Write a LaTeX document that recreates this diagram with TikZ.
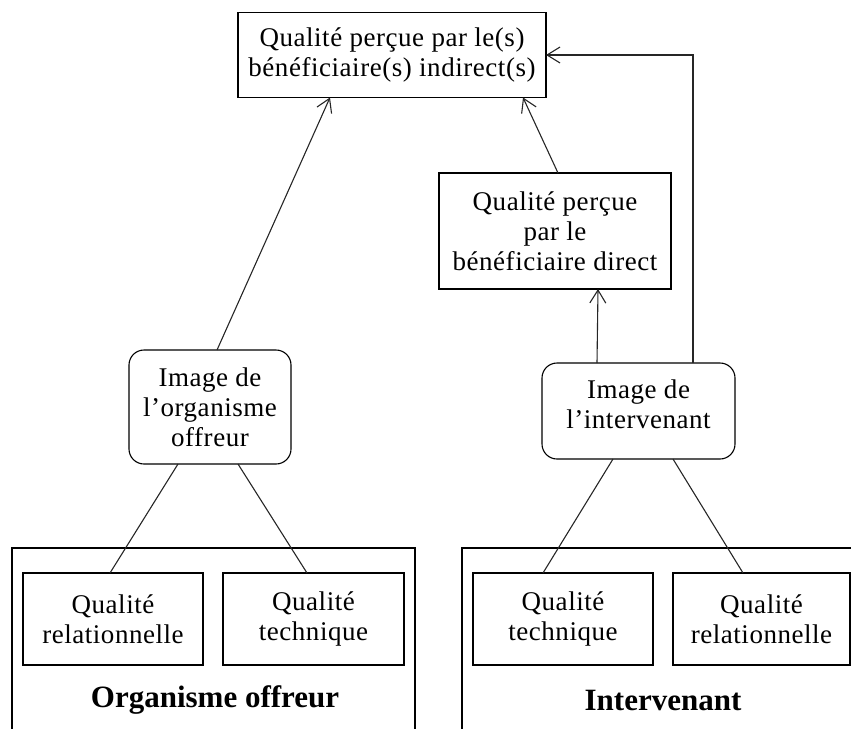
\documentclass[tikz,border=0pt]{standalone}
\usepackage{fontspec}
\setmainfont{Liberation Serif}
\newfontfamily\boxfont{Liberation Serif}[LetterSpace=2]
\usetikzlibrary{arrows.meta}
\begin{document}
\begin{tikzpicture}[x=1pt,y=-1pt,
  every node/.style={inner sep=0pt,outer sep=0pt,align=center,
    font=\boxfont\fontsize{27}{30}\selectfont},
  box/.style={draw,line width=1.1pt,rectangle},
  rbox/.style={draw,line width=1.1pt,rectangle,rounded corners=15pt},
  conn/.style={line width=1.1pt,draw=black!85},
  arr/.style={conn,-{Straight Barb[length=13pt,width=16pt,line width=1.1pt]}},
  title/.style={font=\rmfamily\fontsize{31}{34}\selectfont\bfseries}]
\useasboundingbox (0,0) rectangle (851,728);
% big containers
\node[box,minimum width=403pt,minimum height=230pt,anchor=north west] (orgbox) at (12,548) {};
\node[box,minimum width=430pt,minimum height=230pt,anchor=north west] (intbox) at (462,548) {};
\node[title] (orgtitle) at (215,700) {Organisme offreur};
\node[title] (inttitle) at (663,700) {Intervenant};
% inner boxes
\node[box,minimum width=180pt,minimum height=92pt] (l1) at (113,619) {Qualité\\relationnelle};
\node[box,minimum width=181pt,minimum height=92pt] (l2) at (313.5,619) {Qualité\\technique};
\node[box,minimum width=180pt,minimum height=92pt] (r1) at (563,619) {Qualité\\technique};
\node[box,minimum width=177pt,minimum height=92pt] (r2) at (761.5,619) {Qualité\\relationnelle};
% image nodes
\node[rbox,minimum width=162pt,minimum height=114pt] (org) at (210,407) {Image de\\l’organisme\\offreur};
\node[rbox,minimum width=193pt,minimum height=96pt] (int) at (638.5,411) {};
\node (inttext) at (638.5,404) {Image de\\l’intervenant};
% quality boxes
\node[box,minimum width=232pt,minimum height=116pt] (mid) at (555,231) {Qualité perçue\\par le\\bénéficiaire direct};
\node[box,minimum width=308pt,minimum height=85pt] (top) at (392,55) {Qualité perçue par le(s)\\bénéficiaire(s) indirect(s)};
% connectors
\draw[arr] ([xshift=7pt]org.north) -- ([xshift=-62pt]top.south);
\draw[arr] ([xshift=3pt]mid.north) -- ([xshift=131pt]top.south);
\draw[arr] ([xshift=-41.5pt]int.north) -- ([xshift=43pt]mid.south);
\draw[arr] ([xshift=54.5pt]int.north) |- (top.east);
\draw[conn] ([xshift=-32pt]org.south) -- ([xshift=-3pt]l1.north);
\draw[conn] ([xshift=28pt]org.south) -- ([xshift=-6.5pt]l2.north);
\draw[conn] ([xshift=-25.5pt]int.south) -- ([xshift=-20pt]r1.north);
\draw[conn] ([xshift=34.5pt]int.south) -- ([xshift=-18.5pt]r2.north);
\end{tikzpicture}
\end{document}
